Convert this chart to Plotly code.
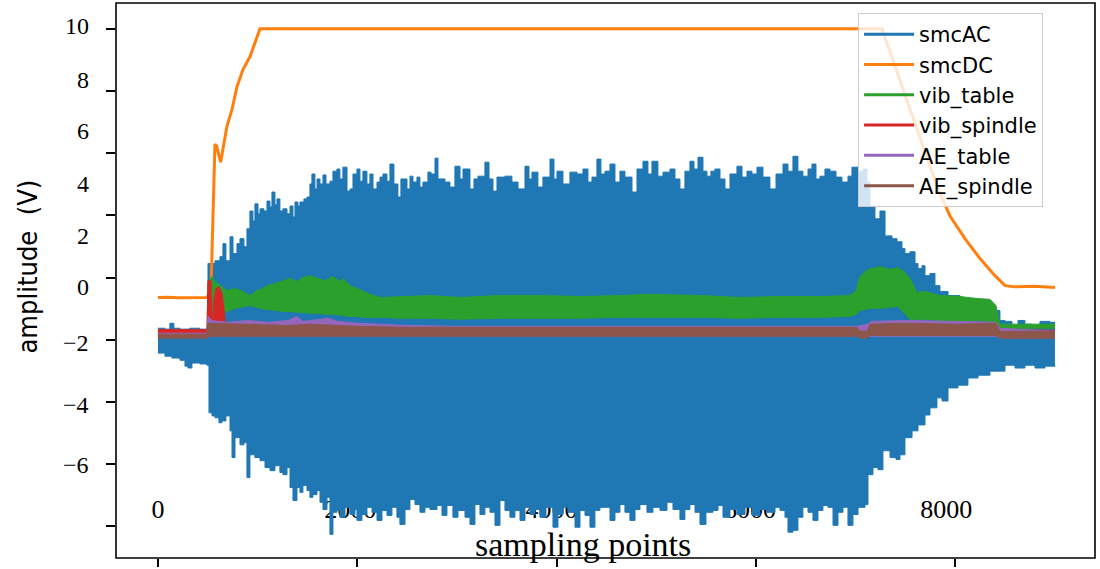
import plotly.graph_objects as go

# ---------------- data ----------------
series_names = ["smcAC", "smcDC", "vib_table", "vib_spindle", "AE_table", "AE_spindle"]
colors = ["#1f77b4", "#ff7f0e", "#2ca02c", "#d62728", "#9467bd", "#8c564b"]

# smcAC : envelope of the oscillating signal (upper / lower)
smcAC_up_x = [0, 70, 120, 160, 220, 320, 420, 492, 502, 572,
              622, 652, 682, 723, 753, 793, 823, 863, 893, 923,
              953, 973, 1004, 1024, 1064, 1094, 1124, 1144, 1174, 1194,
              1224, 1254, 1295, 1325, 1355, 1375, 1405, 1425, 1465, 1495,
              1525, 1545, 1575, 1596, 1626, 1656, 1686, 1726, 1756, 1796,
              1826, 1856, 1897, 1927, 1957, 1997, 2027, 2057, 2097, 2127,
              2158, 2198, 2228, 2258, 2298, 2328, 2368, 2408, 2438, 2479,
              2499, 2529, 2559, 2599, 2629, 2659, 2709, 2740, 2780, 2810,
              2880, 2930, 2980, 3031, 3061, 3131, 3171, 3211, 3281, 3322,
              3362, 3402, 3482, 3552, 3613, 3683, 3723, 3753, 3813, 3863,
              3934, 3974, 4004, 4064, 4134, 4205, 4265, 4315, 4355, 4405,
              4445, 4486, 4536, 4586, 4636, 4686, 4757, 4807, 4867, 4917,
              4957, 5017, 5068, 5138, 5188, 5238, 5288, 5338, 5379, 5419,
              5469, 5509, 5549, 5589, 5640, 5690, 5740, 5810, 5861, 5911,
              5961, 6011, 6071, 6141, 6202, 6272, 6322, 6372, 6422, 6472,
              6523, 6563, 6603, 6643, 6693, 6744, 6804, 6864, 6924, 6964,
              7025, 7075, 7115, 7145, 7195, 7245, 7296, 7366, 7416, 7466,
              7496, 7546, 7597, 7627, 7667, 7697, 7747, 7797, 7847, 7928,
              8048, 8199, 8349, 8449, 8500, 8570, 8630, 8700, 8771, 8851,
              8901, 8951, 9001]
smcAC_up_y = [0.37, 0.34, 0.53, 0.37, 0.34, 0.37, 0.34, 0.37, 2.45, 2.54,
              2.67, 3.09, 2.54, 3.31, 2.77, 3.09, 3.25, 2.99, 3.57, 4.14,
              3.82, 4.37, 4.05, 4.21, 4.14, 4.46, 4.27, 4.75, 4.34, 4.53,
              4.14, 4.21, 4.05, 4.30, 3.95, 4.43, 4.30, 4.43, 4.53, 4.59,
              5.01, 5.33, 4.85, 5.17, 5.01, 5.30, 5.01, 5.10, 5.42, 5.49,
              5.17, 5.55, 4.78, 4.85, 5.33, 5.49, 5.10, 5.42, 5.01, 5.33,
              4.85, 5.07, 5.23, 5.33, 5.10, 5.65, 5.01, 4.59, 5.17, 5.17,
              4.85, 5.26, 5.07, 5.23, 4.91, 5.07, 5.39, 5.33, 5.84, 5.17,
              5.07, 4.91, 5.58, 5.17, 5.49, 4.85, 5.17, 5.26, 5.71, 5.17,
              4.78, 5.23, 5.26, 5.07, 4.85, 5.58, 5.17, 5.39, 4.91, 5.23,
              5.81, 5.17, 5.42, 5.01, 5.39, 5.33, 5.49, 5.07, 5.23, 5.81,
              5.33, 5.42, 5.65, 5.07, 5.42, 5.23, 4.75, 5.49, 5.74, 5.33,
              5.74, 5.26, 5.39, 5.49, 5.17, 4.85, 5.42, 5.74, 5.49, 5.87,
              5.42, 5.26, 5.42, 5.49, 5.17, 4.85, 5.33, 5.58, 5.23, 5.42,
              5.33, 5.55, 5.23, 4.85, 5.33, 5.65, 5.42, 5.90, 5.42, 5.26,
              5.49, 5.65, 5.17, 5.26, 5.49, 5.42, 5.23, 5.07, 5.26, 5.55,
              5.42, 5.49, 5.07, 4.30, 3.89, 4.14, 3.34, 3.25, 3.15, 2.93,
              2.77, 2.83, 2.45, 2.29, 2.38, 2.06, 2.13, 1.74, 1.55, 1.42,
              1.33, 1.23, 0.94, 0.62, 0.59, 0.46, 0.62, 0.50, 0.46, 0.59,
              0.59, 0.56, 0.53]
smcAC_lo_x = [0, 70, 140, 221, 271, 301, 341, 421, 492, 512,
              542, 572, 612, 642, 682, 723, 743, 773, 823, 863,
              893, 923, 973, 1024, 1074, 1124, 1174, 1224, 1254, 1295,
              1325, 1355, 1395, 1425, 1455, 1495, 1525, 1555, 1596, 1626,
              1656, 1696, 1726, 1756, 1796, 1826, 1877, 1927, 1977, 1997,
              2047, 2097, 2148, 2198, 2248, 2298, 2348, 2398, 2428, 2479,
              2529, 2579, 2629, 2679, 2729, 2800, 2850, 2900, 2960, 3011,
              3081, 3131, 3181, 3231, 3281, 3332, 3382, 3432, 3482, 3532,
              3582, 3633, 3683, 3733, 3783, 3833, 3894, 3964, 4014, 4064,
              4114, 4185, 4235, 4285, 4335, 4385, 4435, 4486, 4536, 4586,
              4636, 4686, 4736, 4787, 4837, 4907, 4967, 5038, 5108, 5168,
              5238, 5288, 5338, 5389, 5439, 5499, 5569, 5620, 5670, 5740,
              5810, 5891, 5961, 6041, 6111, 6191, 6242, 6292, 6322, 6372,
              6422, 6472, 6523, 6573, 6623, 6673, 6723, 6774, 6824, 6874,
              6924, 6974, 7025, 7095, 7125, 7175, 7225, 7275, 7346, 7406,
              7446, 7496, 7567, 7627, 7697, 7747, 7817, 7868, 7928, 8028,
              8128, 8229, 8349, 8500, 8600, 8700, 8801, 8901, 9001]
smcAC_lo_y = [-0.43, -0.53, -0.59, -0.66, -0.85, -0.91, -0.75, -0.78, -0.82, -2.35,
              -2.45, -2.51, -2.67, -2.61, -2.45, -2.93, -3.79, -3.15, -3.38, -3.31,
              -4.43, -3.70, -3.79, -3.89, -4.11, -4.21, -4.05, -4.27, -4.34, -4.11,
              -4.75, -5.17, -4.75, -4.91, -4.69, -4.85, -5.07, -4.98, -4.85, -5.23,
              -5.46, -5.07, -6.26, -5.55, -5.49, -5.71, -5.39, -5.62, -5.46, -5.81,
              -5.62, -5.39, -5.55, -5.81, -5.49, -5.65, -5.39, -5.71, -5.94, -5.46,
              -5.14, -5.30, -5.55, -5.39, -5.46, -5.33, -5.65, -5.33, -5.71, -5.49,
              -5.71, -5.94, -5.30, -5.62, -5.39, -5.55, -5.97, -5.17, -5.49, -5.71,
              -5.49, -5.81, -5.39, -5.62, -5.46, -5.71, -5.39, -6.03, -5.62, -5.39,
              -5.55, -6.03, -5.49, -5.65, -6.03, -5.49, -5.39, -5.39, -5.81, -5.55,
              -5.30, -5.55, -5.81, -5.46, -5.30, -5.55, -5.39, -5.49, -5.23, -5.46,
              -5.78, -5.46, -5.30, -5.55, -5.94, -5.55, -5.49, -5.33, -5.71, -5.46,
              -5.62, -5.39, -5.65, -5.46, -5.55, -5.39, -5.49, -5.71, -6.19, -6.13,
              -5.71, -5.39, -5.55, -5.81, -5.49, -5.33, -5.39, -5.97, -5.55, -5.39,
              -5.97, -5.62, -5.39, -5.30, -4.34, -4.11, -4.18, -3.57, -3.79, -3.85,
              -3.70, -3.15, -2.93, -2.74, -2.42, -2.19, -1.87, -1.97, -1.55, -1.46,
              -1.23, -1.14, -1.01, -0.82, -0.91, -0.82, -0.91, -0.85, -0.82]

# smcDC : single line
smcDC_x = [0, 100, 200, 300, 400, 492, 532, 572, 589, 629, 692, 743, 793, 853,
           923, 993, 1024, 7265, 7827, 7948, 8098, 8249, 8399, 8500, 8600, 8800, 9001]
smcDC_y = [1.36, 1.37, 1.35, 1.36, 1.37, 1.36, 1.60, 6.29, 6.23, 5.71, 6.86, 7.41, 8.14, 8.69,
           9.10, 9.74, 10.0, 10.0, 4.85, 3.98, 3.25, 2.61, 2.06, 1.74, 1.70, 1.72, 1.68]

# vib_table band
vib_table_x = [0, 492, 502, 542, 572, 622, 692, 773, 853, 923,
               993, 1054, 1094, 1174, 1254, 1325, 1395, 1455, 1525, 1606,
               1676, 1756, 1826, 1856, 1927, 1997, 2057, 2127, 2228, 2428,
               2729, 3031, 3432, 3833, 4235, 4636, 4937, 5439, 5841, 6242,
               6643, 6944, 7004, 7045, 7105, 7165, 7245, 7346, 7426, 7496,
               7546, 7617, 7697, 7847, 8048, 8199, 8349, 8409, 8449, 9001]
vib_table_up = [0.24, 0.24, 1.81, 2.03, 1.87, 1.74, 1.58, 1.65, 1.55, 1.42,
                1.58, 1.65, 1.74, 1.81, 1.90, 1.97, 1.87, 2.00, 2.06, 1.97,
                1.90, 2.03, 1.87, 1.97, 1.74, 1.65, 1.55, 1.46, 1.36, 1.39,
                1.42, 1.36, 1.42, 1.42, 1.39, 1.42, 1.46, 1.42, 1.36, 1.39,
                1.39, 1.42, 1.58, 2.03, 2.22, 2.29, 2.35, 2.26, 2.32, 2.16,
                1.97, 1.52, 1.55, 1.42, 1.39, 1.33, 1.30, 1.10, 0.50, 0.50]
vib_table_lo = [0.11, 0.11, 0.53, 0.62, 0.69, 0.75, 0.91, 1.01, 1.07, 1.10,
                1.04, 0.98, 0.98, 0.94, 0.91, 0.91, 0.88, 0.88, 0.85, 0.85,
                0.82, 0.82, 0.78, 0.78, 0.75, 0.75, 0.72, 0.72, 0.72, 0.69,
                0.69, 0.66, 0.69, 0.69, 0.69, 0.72, 0.72, 0.72, 0.69, 0.72,
                0.72, 0.75, 0.82, 0.94, 0.98, 1.01, 1.01, 1.04, 1.07, 0.82,
                0.66, 0.66, 0.66, 0.62, 0.62, 0.62, 0.59, 0.59, 0.37, 0.37]

# vib_spindle band
vib_spindle_x = [0, 492, 502, 532, 542, 562, 582, 612, 642, 662, 682, 8449, 9001]
vib_spindle_up = [0.33, 0.33, 1.90, 1.90, 0.37, 1.33, 1.65, 1.71, 1.49, 1.01, 0.33, 0.33, 0.30]
vib_spindle_lo = [0.20, 0.20, 0.37, 0.37, 0.37, 0.37, 0.37, 0.37, 0.37, 0.37, 0.20, 0.20, 0.18]

# AE_table band
AE_table_x = [0, 492, 502, 542, 602, 702, 902, 1004, 1104, 1305,
              1395, 1455, 1555, 1706, 1806, 2007, 2208, 2509, 3011, 7015,
              7125, 7155, 7506, 8008, 8409, 8449, 9001]
AE_table_up = [0.21, 0.21, 0.75, 0.62, 0.59, 0.56, 0.62, 0.59, 0.56, 0.62,
               0.75, 0.59, 0.62, 0.69, 0.59, 0.53, 0.50, 0.46, 0.43, 0.43,
               0.50, 0.59, 0.62, 0.59, 0.56, 0.37, 0.27]
AE_table_lo = [0.08, 0.08, 0.11, 0.11, 0.11, 0.11, 0.11, 0.11, 0.11, 0.11,
               0.11, 0.11, 0.11, 0.11, 0.11, 0.11, 0.11, 0.11, 0.11, 0.11,
               0.11, 0.11, 0.11, 0.11, 0.11, 0.05, 0.05]

# AE_spindle band
AE_spindle_x = [0, 492, 502, 1004, 1305, 1505, 2007, 2509, 7015, 7045, 7115, 7145, 7506, 8008, 8409, 8449, 9001]
AE_spindle_up = [0.18, 0.18, 0.53, 0.50, 0.46, 0.50, 0.43, 0.40, 0.40, 0.27, 0.27, 0.50, 0.53, 0.50, 0.53, 0.27, 0.27]
AE_spindle_lo = [0.05, 0.05, 0.11, 0.11, 0.11, 0.11, 0.11, 0.11, 0.11, 0.05, 0.05, 0.14, 0.14, 0.14, 0.14, 0.05, 0.05]

# axes
y_tick_vals = [10, 8, 6, 4, 2, 0, -2, -4, -6]
y_tick_labels = ["10", "8", "6", "4", "2", "0", "\u22122", "\u22124", "\u22126"]
x_tick_vals = [0, 2000, 4000, 6000, 8000]
x_tick_labels = ["0", "2000", "4000", "6000", "8000"]

# ---------------- layout helpers (positions/styles) ----------------
x_label_pos = [0, 1930, 3950, 5940, 7910]          # where the x labels sit
y_label_paper = [0.959, 0.862, 0.769, 0.674, 0.581, 0.489, 0.387, 0.276, 0.168]
X_RANGE = [-421, 9403]
Y_RANGE = [-7.02, 10.83]
SERIF = "Liberation Serif, Times New Roman, serif"

fig = go.Figure()


def band(x, lo, up, color, shape="linear", x_lo=None):
    fig.add_trace(go.Scatter(x=x_lo if x_lo is not None else x, y=lo, mode="lines",
                             line=dict(color=color, width=1, shape=shape),
                             showlegend=False, hoverinfo="skip"))
    fig.add_trace(go.Scatter(x=x, y=up, mode="lines", fill="tonexty", fillcolor=color,
                             line=dict(color=color, width=1, shape=shape),
                             showlegend=False, hoverinfo="skip"))


band(smcAC_up_x, smcAC_lo_y, smcAC_up_y, colors[0], shape="hv", x_lo=smcAC_lo_x)
fig.add_trace(go.Scatter(x=smcDC_x, y=smcDC_y, mode="lines",
                         line=dict(color=colors[1], width=3), showlegend=False, hoverinfo="skip"))
band(vib_table_x, vib_table_lo, vib_table_up, colors[2])
band(vib_spindle_x, vib_spindle_lo, vib_spindle_up, colors[3])
band(AE_table_x, AE_table_lo, AE_table_up, colors[4])
band(AE_spindle_x, AE_spindle_lo, AE_spindle_up, colors[5])

# legend entries
for name, c in zip(series_names, colors):
    fig.add_trace(go.Scatter(x=[None], y=[None], mode="lines", name=name,
                             line=dict(color=c, width=3)))

# bottom tick marks (no labels) on an overlaid axis
fig.add_trace(go.Scatter(x=[None], y=[None], xaxis="x2", showlegend=False, hoverinfo="skip"))

annotations = []
for txt, yp in zip(y_tick_labels, y_label_paper):
    annotations.append(dict(text=txt, xref="paper", yref="paper", x=-0.0255, y=yp,
                            xanchor="right", yanchor="middle", showarrow=False,
                            font=dict(family=SERIF, size=24, color="black")))
annotations.append(dict(text="sampling points", xref="paper", yref="paper",
                        x=0.477, y=0.025, xanchor="center", yanchor="middle",
                        showarrow=False, font=dict(family=SERIF, size=34, color="black")))
annotations.append(dict(text="amplitude  (V)", xref="paper", yref="paper",
                        x=-0.09, y=0.525, xanchor="center", yanchor="middle",
                        textangle=-90, showarrow=False,
                        font=dict(family="Liberation Sans Narrow, DejaVu Sans Condensed, Liberation Sans",
                                  size=27, color="black")))

fig.update_layout(
    width=1100, height=569,
    margin=dict(l=116, r=5, t=3, b=8),
    paper_bgcolor="white", plot_bgcolor="white",
    xaxis=dict(range=X_RANGE, anchor="free", position=0.12, showline=False,
               showgrid=False, zeroline=False, ticks="", tickvals=x_label_pos,
               ticktext=x_tick_labels, tickfont=dict(family=SERIF, size=26, color="black"),
               layer="below traces"),
    xaxis2=dict(range=X_RANGE, overlaying="x", anchor="y", side="bottom",
                showline=False, showgrid=False, zeroline=False, showticklabels=False,
                tickvals=x_tick_vals, ticks="outside", ticklen=8, tickwidth=1.5,
                tickcolor="black"),
    yaxis=dict(range=Y_RANGE, showline=False, showgrid=False, zeroline=False,
               tickvals=y_tick_vals, showticklabels=False, ticks="outside",
               ticklen=9, tickwidth=1.5, tickcolor="black"),
    legend=dict(x=0.758, y=0.982, xanchor="left", yanchor="top",
                traceorder="normal",
                bgcolor="rgba(255,255,255,0.8)", bordercolor="#cccccc", borderwidth=1,
                font=dict(family="DejaVu Sans", size=21, color="black"),
                itemwidth=50, tracegroupgap=0),
    shapes=[dict(type="rect", xref="paper", yref="paper", x0=0, y0=0, x1=1, y1=1,
                 line=dict(color="black", width=1.6), layer="above")],
    annotations=annotations,
    showlegend=True,
)

fig.write_html("out.html", config={"displayModeBar": False})
